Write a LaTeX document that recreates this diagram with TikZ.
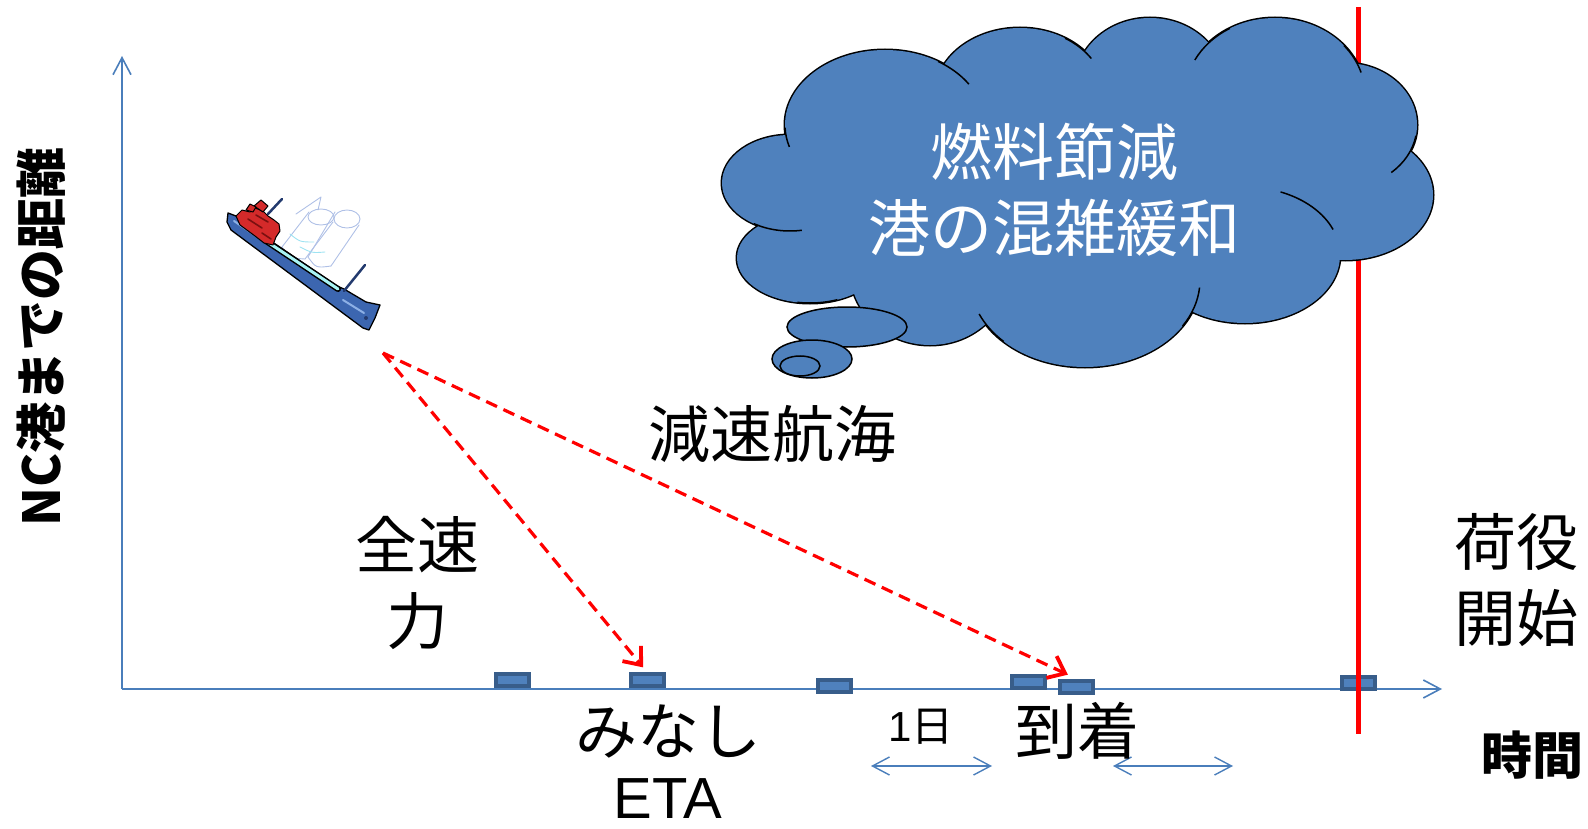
\documentclass[tikz,border=0pt]{standalone}
\usepackage{fontspec}
\newfontfamily\jp{Noto Sans CJK JP}
\newfontfamily\lat{Liberation Sans}
\usetikzlibrary{arrows.meta}
\definecolor{axisblue}{HTML}{4A7EBB}
\definecolor{cloudblue}{HTML}{4F81BD}
\definecolor{markedge}{HTML}{385D8A}
\definecolor{hullblue}{HTML}{3C66B0}
\definecolor{hulllight}{HTML}{8DB0E6}
\definecolor{deckcyan}{HTML}{A8F4F4}
\definecolor{shipred}{HTML}{D42A2A}
\definecolor{darkred}{HTML}{7A1010}
\definecolor{navy}{HTML}{233A6E}
\definecolor{tankline}{HTML}{AFC0E6}
\definecolor{tankcyan}{HTML}{9EE3F2}

\tikzset{
  axisline/.style={draw=axisblue, line width=1.6pt,
    -{Straight Barb[length=17pt,width=18pt]}},
  spanarrow/.style={draw=axisblue, line width=1.4pt,
    {Straight Barb[length=17pt,width=18pt]}-{Straight Barb[length=17pt,width=18pt]}},
  daymark/.style={draw=markedge, fill=cloudblue, line width=4pt,
    minimum width=33pt, minimum height=12pt, inner sep=0pt},
  routearrow/.style={draw=red, line width=3.2pt, dash pattern=on 12pt off 7pt,
    -{Straight Barb[length=15pt,width=24pt,line width=3.8pt]}},
  bigtxt/.style={font={\jp\fontsize{62}{76}\selectfont}, inner sep=0pt, align=center},
  midtxt/.style={font={\jp\fontsize{42}{50}\selectfont}, inner sep=0pt},
  boldtxt/.style={font={\jp\bfseries\fontsize{51}{60}\selectfont}, inner sep=0pt},
  cloudtxt/.style={font={\jp\fontsize{62}{76}\selectfont}, text=white, inner sep=0pt, align=center},
  puffline/.style={draw=black, line width=1.5pt},
  tank/.style={draw=tankline, line width=0.9pt}
}

\begin{document}
\begin{tikzpicture}[x=1pt,y=-1pt]
\useasboundingbox (0,0) rectangle (1588,829);

% ---- axes ----
\coordinate (origin) at (122,689);
\coordinate (ytop) at (122,56);
\coordinate (xend) at (1442,689);
\draw[axisline] (origin) -- (ytop);
\draw[axisline] (origin) -- (xend);

% ---- day markers on the time axis ----
\node[daymark] (m1) at (512.5,680) {};
\node[daymark] (m2) at (647,680) {};
\node[daymark] (m3) at (834.5,686) {};
\node[daymark] (m4) at (1028,681.5) {};
\node[daymark] (m5) at (1076,686.5) {};
\node[daymark] (m6) at (1358.5,683) {};

% ---- start of cargo handling ----
\coordinate (redtop) at (1358,7);
\coordinate (redbot) at (1358,734);
\draw[red, line width=5pt] (redtop) -- (redbot);

% ---- thought cloud ----
\begin{scope}
  % outline of every puff, then fill over it so only the outer edge remains
  \foreach \cx/\cy/\rx/\ry in {790/183/68/48, 810/258/73/45, 885/125/100/75,
      1020/95/85/67, 1150/85/75/67, 1275/95/90/77, 1345/125/72/62,
      1345/195/88/65, 1245/255/95/68, 1085/280/115/87, 930/270/80/75}
    \draw[line width=3pt] (\cx,\cy) ellipse [x radius=\rx, y radius=\ry];
  \foreach \cx/\cy/\rx/\ry in {790/183/68/48, 810/258/73/45, 885/125/100/75,
      1020/95/85/67, 1150/85/75/67, 1275/95/90/77, 1345/125/72/62,
      1345/195/88/65, 1245/255/95/68, 1085/280/115/87, 930/270/80/75,
      1080/190/270/120}
    \fill[cloudblue] (\cx,\cy) ellipse [x radius=\rx, y radius=\ry];
  % inner puff strokes
  \foreach \cx/\cy/\rx/\ry/\a/\b in {790/183/68/48/80/122, 810/258/73/45/68/100,
      885/125/100/75/163/178, 885/125/100/75/-58/-33, 1020/95/85/67/-58/-33,
      1275/95/90/77/207/240, 1275/95/90/77/-40/-17, 1345/125/72/62/10/50,
      1245/255/95/68/-68/-22, 1085/280/115/87/5/32, 1085/280/115/87/135/157}
    \draw[puffline] (\cx,\cy) ++(\a:{\rx} and {\ry})
      arc[start angle=\a, end angle=\b, x radius=\rx, y radius=\ry];
  % trailing bubbles
  \filldraw[fill=cloudblue, puffline] (847,327) ellipse [x radius=60, y radius=20];
  \filldraw[fill=cloudblue, puffline] (812,359) ellipse [x radius=40, y radius=19];
  \filldraw[fill=cloudblue, puffline] (800,366) ellipse [x radius=20, y radius=10];
\end{scope}
\node[cloudtxt] (benefit) at (1054,190) {燃料節減\\港の混雑緩和};

% ---- ship ----
\begin{scope}[line join=round, line cap=round]
  % cargo tanks
  \draw[tank] (321,217) ellipse [x radius=13, y radius=8];
  \draw[tank] (347,219) ellipse [x radius=13, y radius=9];
  \draw[tank] (309,212) -- (282,247) (333,222) -- (305,259);
  \draw[tank] (335,212) -- (308,257) (359,225) -- (331,266);
  \draw[draw=tankcyan, line width=0.9pt] (290,234) .. controls (300,242) .. (314,242)
        (300,247) .. controls (312,253) .. (325,252);
  \draw[tank] (296,214) -- (321,197) -- (318,210);
  \draw[tank] (282,247) .. controls (289,258) .. (305,259);
  \draw[tank] (308,257) .. controls (316,268) .. (331,266);
  % hull
  \filldraw[fill=hullblue, draw=black, line width=1.3pt]
    (228,213) -- (236,216) -- (265,237) -- (337,286) -- (344,289) -- (366,302)
    -- (380,305) -- (375,318) -- (369,330) -- (363,328) -- (231,230) -- (227,222) -- cycle;
  \draw[hulllight, line width=2pt] (234,221) -- (300,266);
  \draw[hulllight, line width=2pt] (343,300) -- (364,313);
  \fill[navy] (366,318) circle (2pt);
  % deck
  \draw[black, line width=6pt] (266,241) -- (338,289);
  \draw[deckcyan, line width=3pt] (266,241) -- (338,289);
  % bridge and funnel
  \filldraw[fill=shipred, draw=black, line width=1pt]
    (236,216) -- (242,210) -- (250,212) -- (255,208) -- (263,211) -- (268,216)
    -- (274,220) -- (279,224) -- (280,231) -- (276,237) -- (273,245) -- (264,243)
    -- (255,236) -- (240,225) -- cycle;
  \filldraw[fill=shipred, draw=black, line width=1pt]
    (254,206) -- (261,200) -- (268,206) -- (263,212) -- cycle;
  \filldraw[fill=shipred, draw=black, line width=1pt]
    (246,210) -- (250,204) -- (256,207) -- (253,212) -- cycle;
  \draw[darkred, line width=1.6pt] (248,219) -- (262,228) (256,215) -- (268,222)
    (262,233) -- (271,239);
  \draw[navy, line width=2.5pt] (268,214) -- (282,199);
  \draw[navy, line width=2.5pt] (344,291) -- (365,265);
\end{scope}
\coordinate (shipfoot) at (383,353);

% ---- voyage options ----
\draw[routearrow, shorten >=6pt] (shipfoot) -- (m2.north);
\draw[routearrow, shorten >=9pt] (shipfoot) -- (m5.north);

% ---- one-day spans ----
\coordinate (d1a) at (871,766);
\coordinate (d1b) at (992,766);
\coordinate (d2a) at (1113,766);
\coordinate (d2b) at (1233,766);
\draw[spanarrow] (d1a) -- (d1b);
\draw[spanarrow] (d2a) -- (d2b);

% ---- labels ----
\node[boldtxt, rotate=90] (ylabel) at (41,337) {NC港までの距離};
\node[boldtxt] (xlabel) at (1532,755) {時間};
\node[bigtxt] (fullspeed) at (417,583) {全速\\力};
\node[bigtxt] (slowsteam) at (772,434) {減速航海};
\node[bigtxt] (deemed) at (668,731) {みなし};
\node[inner sep=0pt, font={\lat\fontsize{58}{62}\selectfont}] (eta) at (668,799) {ETA};
\node[bigtxt] (arrival) at (1077,731) {到着};
\node[bigtxt] (cargo) at (1516,580) {荷役\\開始};
\node[midtxt] (oneday) at (921,727) {\lat 1\jp 日};
\end{tikzpicture}
\end{document}
